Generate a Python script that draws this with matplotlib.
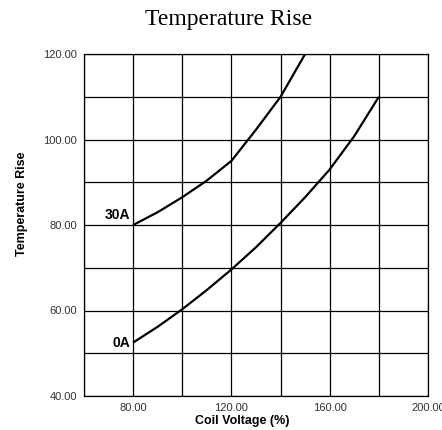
import matplotlib
matplotlib.use('Agg')
import matplotlib.pyplot as plt

# coil voltage (%) vs temperature rise
volt_0a  = [80, 90, 100, 110, 120, 130, 140, 150, 160, 170, 180]
rise_0a  = [52.5, 56.2, 60.3, 64.8, 69.6, 74.8, 80.5, 86.5, 93.0, 100.8, 110.0]
volt_30a = [80, 90, 100, 110, 120, 130, 140, 150]
rise_30a = [80.0, 83.0, 86.5, 90.4, 95.0, 102.3, 110.0, 120.0]

xticks = [60, 80, 100, 120, 140, 160, 180, 200]
xlabels = ['', '80.00', '', '120.00', '', '160.00', '', '200.00']
yticks = [40, 50, 60, 70, 80, 90, 100, 110, 120]
ylabels = ['40.00', '', '60.00', '', '80.00', '', '100.00', '', '120.00']

fig = plt.figure(figsize=(4.42, 4.30), dpi=100)
ax = fig.add_axes([84/442, 1-396/430, 344/442, 342/430])

ax.plot(volt_0a, rise_0a, color='black', lw=1.6, solid_capstyle='butt')
ax.plot(volt_30a, rise_30a, color='black', lw=1.6, solid_capstyle='butt')

ax.set_xlim(60, 200)
ax.set_ylim(40, 120)
ax.set_xticks(xticks)
ax.set_xticklabels(xlabels)
ax.set_yticks(yticks)
ax.set_yticklabels(ylabels)
ax.tick_params(length=0, labelsize=8, labelcolor='#333333', pad=5,
               labelfontfamily='Liberation Sans')
ax.grid(True, color='black', lw=0.9)
for s in ax.spines.values():
    s.set_linewidth(0.9)
    s.set_color('black')

ax.annotate('0A', (volt_0a[0], rise_0a[0]), xytext=(-2, 0), textcoords='offset points',
            ha='right', va='center', fontsize=10, fontweight='bold', family='Liberation Sans')
ax.annotate('30A', (volt_30a[0], rise_30a[0]), xytext=(-2, 7), textcoords='offset points',
            ha='right', va='center', fontsize=10, fontweight='bold', family='Liberation Sans')

fig.text(242/442, 1-421/430, 'Coil Voltage (%)', ha='center', va='center',
         fontsize=9, fontweight='bold', family='Liberation Sans')
fig.text(22/442, 1-204/430, 'Temperature Rise', ha='center', va='center', rotation=90,
         fontsize=9, fontweight='bold', family='Liberation Sans')
fig.text(229/442, 1-20/430, 'Temperature Rise', ha='center', va='center',
         fontsize=17, family='Liberation Serif')

fig.savefig('out.png', dpi=100)
